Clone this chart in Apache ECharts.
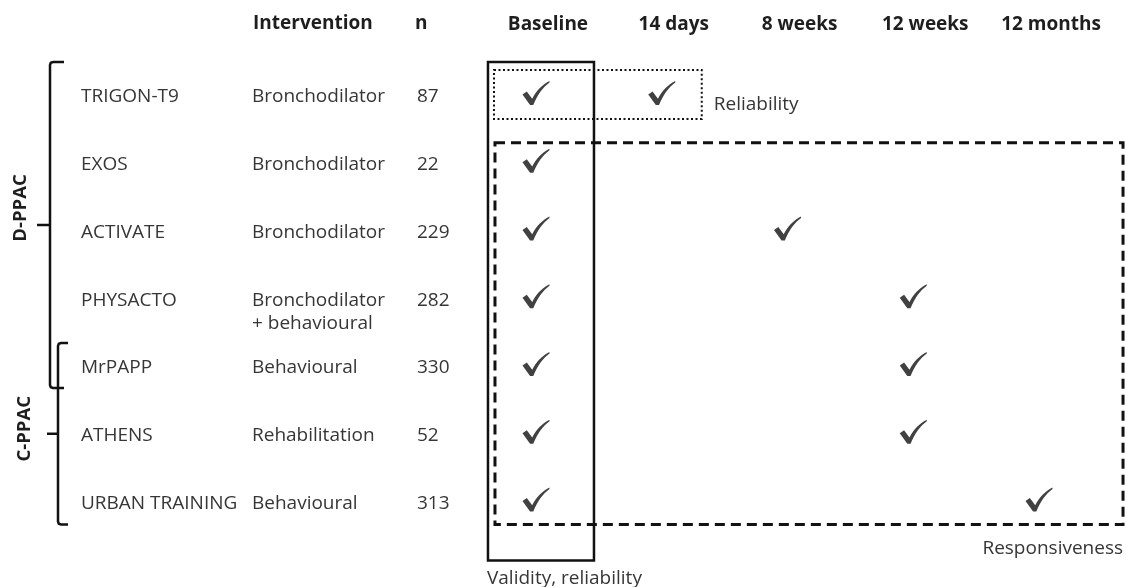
<!DOCTYPE html>
<html><head><meta charset="utf-8">
<script src="https://cdn.jsdelivr.net/npm/echarts@6/dist/echarts.min.js"></script>
<style>html,body{margin:0;padding:0;background:#fff}#c{width:1126px;height:587px}</style>
</head><body><div id="c"></div>
<script>
// ---- data ----
const studies = ['TRIGON-T9','EXOS','ACTIVATE','PHYSACTO','MrPAPP','ATHENS','URBAN TRAINING'];
const interventions = ['Bronchodilator','Bronchodilator','Bronchodilator','Bronchodilator\n+ behavioural','Behavioural','Rehabilitation','Behavioural'];
const sampleSizes = ['87','22','229','282','330','52','313'];
const timepoints = ['Baseline','14 days','8 weeks','12 weeks','12 months'];
// assessments: [timepoint, study]
const assessments = [
  ['Baseline','TRIGON-T9'],['14 days','TRIGON-T9'],
  ['Baseline','EXOS'],
  ['Baseline','ACTIVATE'],['8 weeks','ACTIVATE'],
  ['Baseline','PHYSACTO'],['12 weeks','PHYSACTO'],
  ['Baseline','MrPAPP'],['12 weeks','MrPAPP'],
  ['Baseline','ATHENS'],['12 weeks','ATHENS'],
  ['Baseline','URBAN TRAINING'],['12 months','URBAN TRAINING']
];
const groups = [{name:'D-PPAC', from:'TRIGON-T9', to:'MrPAPP'},{name:'C-PPAC', from:'MrPAPP', to:'URBAN TRAINING'}];
const colHeaders = ['Intervention','n'];
const boxLabels = {validity:'Validity, reliability', reliability:'Reliability', responsiveness:'Responsiveness'};

// ---- layout / style ----
const FONT = '"Open Sans", sans-serif';
const TXT = '#363636';
const HEAD = '#1e1e1e';
const FS = 19;
const GL = 485.1, GR = 12.1, GT = 63.1, GB = 49.6;
const CHECK = 'path://M1,13 L5,10 L10,17 C14,9 19,4 26,0 L26,1.5 C20,6 15,13 11,23 L8,23 Z';

function yAxisCol(labels, x) {
  return {
    type:'category', data: studies, inverse:true, position:'left',
    axisLine:{show:false}, axisTick:{show:false}, splitLine:{show:false},
    axisLabel:{
      fontFamily:FONT, fontSize:FS, color:TXT, align:'left', margin: GL - x, lineHeight: 23.5,
      formatter:(v, i) => labels[i].indexOf('\n') >= 0 ? ' \n' + labels[i] : labels[i]
    }
  };
}

const option = {
  animation:false,
  backgroundColor:'#fff',
  grid:{left:GL, right:GR, top:GT, bottom:GB},
  title: colHeaders.map((t, i) => ({
    text:t, left: i === 0 ? 248 : 410, top: 9,
    textStyle:{fontFamily:FONT, fontSize:FS, fontWeight:'bold', color:HEAD}
  })),
  xAxis:{
    type:'category', data: timepoints, position:'top',
    axisLine:{show:false}, axisTick:{show:false}, splitLine:{show:false},
    axisLabel:{fontFamily:FONT, fontSize:FS, fontWeight:'bold', color:HEAD, margin:29, interval:0, hideOverlap:false}
  },
  yAxis:[
    yAxisCol(studies, 81),
    yAxisCol(interventions, 252),
    yAxisCol(sampleSizes, 417)
  ],
  series:[{
    type:'scatter', xAxisIndex:0, yAxisIndex:0,
    symbol: CHECK, symbolSize:[27,24], symbolOffset:[-12,-4],
    itemStyle:{color:'#111'},
    data: assessments,
    z:5
  }]
};

const chart = echarts.init(document.getElementById('c'), null, {renderer:'canvas'});
chart.setOption(option);

const P = (t, s) => chart.convertToPixel({seriesIndex:0}, [t, s]);
const base0 = P('Baseline', studies[0]);
const last = P('12 months', studies[studies.length-1]);
const d14 = P('14 days', studies[0]);
const y1 = P('Baseline', studies[1])[1];
const yLast = last[1];
const y0 = base0[1];
const labelStyle = {fontFamily:FONT, fontSize:FS, fill:TXT};
const bx = base0[0];

const g = [];
// Validity box (solid)
g.push({type:'rect', shape:{x: bx-60, y: y0-35, width:106, height:(yLast+57)-(y0-35)},
  style:{fill:'none', stroke:'#111', lineWidth:2.5}, z:3});
g.push({type:'text', x: bx-61, y: yLast+75, style:{...labelStyle, text:boxLabels.validity, textAlign:'left', textVerticalAlign:'middle'}});
// Reliability box (dotted)
g.push({type:'rect', shape:{x: bx-54, y: y0-27, width:(d14[0]+28)-(bx-54), height:49},
  style:{fill:'none', stroke:'#111', lineWidth:2, lineDash:[2,2.5]}, z:3});
g.push({type:'text', x: d14[0]+40, y: y0+8, style:{...labelStyle, text:boxLabels.reliability, textAlign:'left', textVerticalAlign:'middle'}});
// Responsiveness box (dashed)
g.push({type:'rect', shape:{x: bx-53, y: y1-22, width:(last[0]+72)-(bx-53), height:(yLast+21)-(y1-22)},
  style:{fill:'none', stroke:'#111', lineWidth:3, lineDash:[10,6]}, z:3});
g.push({type:'text', x: last[0]+72, y: yLast+45, style:{...labelStyle, text:boxLabels.responsiveness, textAlign:'right', textVerticalAlign:'middle'}});

// group brackets
const bracketGeom = [
  {xv:50, hook:14, tick:13, topOff:-35, botOff:20, lx:21, ly:-17},
  {xv:58, hook:10, tick:11, topOff:-25, botOff:21, lx:24.5, ly:-5}
];
groups.forEach((gr, i) => {
  const b = bracketGeom[i];
  const top = P('Baseline', gr.from)[1] + b.topOff;
  const bot = P('Baseline', gr.to)[1] + b.botOff;
  const mid = (top + bot) / 2;
  g.push({type:'polyline', shape:{points:[
    [b.xv+b.hook, top], [b.xv+3, top], [b.xv+0.8, top+0.8], [b.xv, top+3],
    [b.xv, bot-3], [b.xv+0.8, bot-0.8], [b.xv+3, bot], [b.xv+b.hook, bot]]},
    style:{fill:'none', stroke:'#111', lineWidth:2.5}});
  g.push({type:'line', shape:{x1:b.xv-b.tick, y1:mid, x2:b.xv, y2:mid},
    style:{stroke:'#111', lineWidth:2.5}});
  g.push({type:'text', x:b.lx, y:mid + b.ly, rotation:Math.PI/2,
    style:{text:gr.name, fontFamily:FONT, fontSize:18.5, fontWeight:'bold', fill:HEAD, textAlign:'center', textVerticalAlign:'middle'}});
});

chart.setOption({graphic:{elements:g}});
</script>
</body></html>
